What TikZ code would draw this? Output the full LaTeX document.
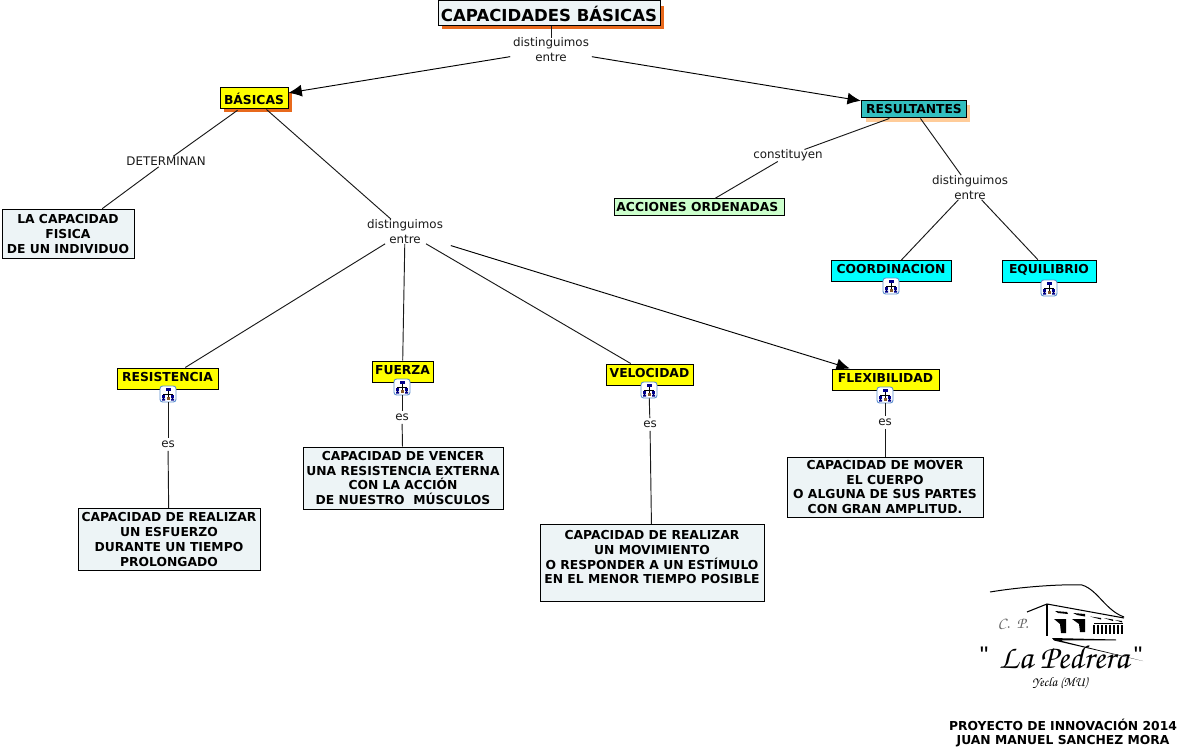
\documentclass[tikz,border=0pt]{standalone}
\usepackage{fontspec}
\setmainfont{DejaVu Sans}
\newfontfamily\quotefnt{Liberation Sans}
\newcommand{\scriptfnt}{\fontencoding{T1}\fontfamily{pzc}\fontseries{m}\fontshape{it}\selectfont}
\usetikzlibrary{arrows.meta,calc}
\definecolor{boxpale}{HTML}{EDF4F6}
\definecolor{yel}{HTML}{FFFF00}
\definecolor{cya}{HTML}{00FFFF}
\definecolor{teal2}{HTML}{33BFBF}
\definecolor{grn}{HTML}{CCFFCC}
\definecolor{org}{HTML}{E8691C}
\definecolor{pal}{HTML}{FFCC99}
\definecolor{iconb}{HTML}{5B8FD0}
\tikzset{
 x=0.75pt,y=-0.75pt,
 concept/.style={draw=black,line width=0.75pt,inner sep=0pt,align=center,font=\fontsize{9.25pt}{11.2pt}\selectfont\bfseries},
 up/.style={text height=7pt,text depth=#1},
 link/.style={inner sep=0pt,align=center,text=black!90,font=\fontsize{8.9pt}{11.2pt}\selectfont},
 conn/.style={line width=0.7pt,black!90},
 arr/.style={line width=0.7pt,black,-{Latex[length=10pt,width=9pt]}},
}
\newcommand{\mapicon}[2]{%
 \begin{scope}[shift={(#1,#2)}]
 \draw[draw=iconb,fill=white,line width=0.7pt,rounded corners=2pt] (-8,-8) rectangle (8,8);
 \draw[line width=0.35pt,black] (0,-3)--(0,4) (-4.5,2)--(-4.5,0)--(4.5,0)--(4.5,2) (-4.5,2)--(-4.5,5) (4.5,2)--(4.5,5);
 \fill[blue!55!black] (-2.5,-6) rectangle (2.5,-3);
 \fill[blue!55!black] (-6,1) rectangle (-3,3.5);
 \fill[blue!55!black] (3,1) rectangle (6,3.5);
 \fill[brown!70!black] (-1.5,3) rectangle (1.5,5.5);
 \fill[blue!55!black] (-6,4.5) rectangle (-3,6.5) (3,4.5) rectangle (6,6.5);
 \end{scope}}
\begin{document}
\begin{tikzpicture}
\useasboundingbox (0,0) rectangle (1187,752);
\fill[white] (0,0) rectangle (1187,752);
% shadows
\fill[org] (442,6) rectangle (664,29);
\fill[org] (224,92) rectangle (292,112);
\fill[pal] (866,105) rectangle (970,122);
% concept boxes
\node[concept,fill=boxpale,minimum width=166.5pt,minimum height=18.75pt,font=\fontsize{12.4pt}{14pt}\selectfont\bfseries] (title) at (549,13.5) {CAPACIDADES BÁSICAS};
\node[concept,fill=yel,minimum width=51pt,minimum height=15.75pt] (bas) at (254,98.5) {BÁSICAS};
\node[concept,fill=teal2,minimum width=79pt,minimum height=12.75pt] (res) at (914,109.5) {RESULTANTES};
\node[concept,fill=boxpale,minimum width=99pt,minimum height=36pt] (cap) at (68,234) {LA CAPACIDAD\\FISICA\\DE UN INDIVIDUO};
\node[concept,fill=grn,minimum width=128pt,minimum height=12.75pt] (acc) at (699.5,207.5) {ACCIONES ORDENADAS\ };
\node[concept,fill=cya,minimum width=90pt,minimum height=16pt,up=3pt] (coo) at (891,271) {COORDINACION};
\node[concept,fill=cya,minimum width=70.5pt,minimum height=17pt,up=4pt] (equ) at (1049,271.5) {EQUILIBRIO};
\node[concept,fill=yel,minimum width=75.75pt,minimum height=15.75pt,up=3pt] (resi) at (167.5,378.5) {RESISTENCIA};
\node[concept,fill=yel,minimum width=45.75pt,minimum height=15.75pt,up=2.5pt] (fue) at (402.5,371.5) {FUERZA};
\node[concept,fill=yel,minimum width=65.25pt,minimum height=15.75pt,up=3pt] (vel) at (649.5,374.5) {VELOCIDAD};
\node[concept,fill=yel,minimum width=80.25pt,minimum height=15.75pt,up=2pt] (fle) at (885.5,379.5) {FLEXIBILIDAD};
\node[concept,fill=boxpale,minimum width=136.5pt,minimum height=46.5pt] (d1) at (169,539.7) {CAPACIDAD DE REALIZAR\\UN ESFUERZO\\DURANTE UN TIEMPO\\PROLONGADO};
\node[concept,fill=boxpale,minimum width=150pt,minimum height=46.5pt] (d2) at (403,478) {CAPACIDAD DE VENCER\\UNA RESISTENCIA EXTERNA\\CON LA ACCIÓN\\DE NUESTRO\ \ MÚSCULOS};
\node[concept,fill=boxpale,minimum width=168pt,minimum height=57.75pt,anchor=north] (d3) at (652,524) {CAPACIDAD DE REALIZAR\\UN MOVIMIENTO\\O RESPONDER A UN ESTÍMULO\\EN EL MENOR TIEMPO POSIBLE\rule[-9pt]{0pt}{9pt}};
\node[concept,fill=boxpale,minimum width=147pt,minimum height=45pt] (d4) at (885,487) {CAPACIDAD DE MOVER\\EL CUERPO\\O ALGUNA DE SUS PARTES\\CON GRAN AMPLITUD.};
% link labels
\node[link] (l0) at (551,50) {distinguimos\\entre};
\node[link] (l1) at (166,161.5) {DETERMINAN};
\node[link] (l2) at (405,231.5) {distinguimos\\entre};
\node[link] (l3) at (788,155.5) {constituyen};
\node[link] (l4) at (970,187.5) {distinguimos\\entre};
\node[link] (e1) at (168,444.5) {es};
\node[link] (e2) at (402,417.5) {es};
\node[link] (e3) at (650,424.5) {es};
\node[link] (e4) at (885,422.5) {es};
% icons
\mapicon{168}{394}\coordinate (i1) at (168,394);
\mapicon{402}{387}\coordinate (i2) at (402,387);
\mapicon{649}{390}\coordinate (i3) at (649,390);
\mapicon{885}{395}\coordinate (i4) at (885,395);
\mapicon{891}{286}
\mapicon{1049}{288}
% connectors
\draw[conn] (l0 |- title.south) -- (l0);
\draw[arr,shorten <=2pt] (l0) -- (bas);
\draw[arr,shorten <=2pt] (l0) -- (res);
\draw[conn,shorten >=1pt,shorten <=1pt] (bas) -- (l1);
\draw[conn,shorten >=1pt,shorten <=1pt] (l1) -- (cap);
\draw[conn] (bas) -- (l2);
\draw[conn] (res) -- (l3);
\draw[conn] (l3) -- (acc);
\draw[conn] (res) -- (l4);
\draw[conn] (l4) -- (coo);
\draw[conn] (l4) -- (equ);
\draw[conn] (l2) -- (resi);
\draw[conn] (l2) -- (fue);
\draw[conn] (l2) -- (vel);
\draw[arr,shorten <=6pt] (l2) -- (fle);
\draw[conn,shorten <=6pt,shorten >=2pt] (i1) -- (e1);
\draw[conn,shorten <=6pt,shorten >=2pt] (i2) -- (e2);
\draw[conn,shorten <=6pt,shorten >=2pt] (i3) -- (e3);
\draw[conn,shorten <=6pt,shorten >=2pt] (i4) -- (e4);
\draw[conn,shorten <=2pt] (e1) -- (d1);
\draw[conn,shorten <=2pt] (e2) -- (d2);
\draw[conn,shorten <=2pt] (e3) -- (d3);
\draw[conn,shorten <=2pt] (e4) -- (d4);
% logo
\draw[line width=0.75pt] (990,592) .. controls (1020,587) and (1060,584) .. (1082,585) .. controls (1098,590) and (1105,610) .. (1124,617);
\draw[line width=0.8pt] (1027,612)--(1047,604)--(1124,618);
\draw[line width=0.9pt] (1047,604)--(1047,636);
\fill (1055,611) -- (1067,612) -- (1068,614) -- (1058,613) -- cycle;
\fill (1073,613) -- (1085,614) -- (1085,616.5) -- (1077,615) -- cycle;
\fill (1090,616.5) -- (1101,618) -- (1101,619.5) -- cycle;
\fill (1104,618) -- (1113,619.5) -- (1113,621) -- cycle;
\fill (1115,620) -- (1122,621) -- (1122,622.5) -- cycle;
\fill (1054,619) -- (1066,619) -- (1066,633) -- (1061,633) -- (1060,624) -- cycle;
\fill (1072,619) -- (1085,619) -- (1085,632) -- (1080,632) -- (1079,624) -- cycle;
\draw[line width=0.7pt] (1094,623)--(1123,623);
\foreach \xx in {1094,1098,...,1122}{\draw[line width=0.8pt] (\xx,625)--(\xx,634);}
\fill (1052,638) -- (1116,639.5) -- (1116,640.3) -- (1060,640.5) -- (1143,661) -- (1054,640.5) -- cycle;
\node[inner sep=0pt,font=\scriptfnt\fontsize{12pt}{12pt}\selectfont,text=black!60] (cp) at (1013,624) {C.\ \ P.};
\node[inner sep=0pt,font=\quotefnt\fontsize{18pt}{18pt}\selectfont] (q1) at (984,655) {\char34};
\node[inner sep=0pt,font=\quotefnt\fontsize{18pt}{18pt}\selectfont] (q2) at (1138,655) {\char34};
\node[inner sep=0pt,font=\scriptfnt\fontsize{25pt}{25pt}\selectfont] (lp) at (1064,657) {La Pedrera};
\node[inner sep=0pt,font=\scriptfnt\fontsize{10pt}{10pt}\selectfont] (yc) at (1060,683) {Yecla (MU)};
% footer
\node[concept,draw=none,font=\fontsize{9.25pt}{11.2pt}\selectfont\bfseries] (foot) at (1063,733) {PROYECTO DE INNOVACIÓN 2014\\JUAN MANUEL SANCHEZ MORA};
\end{tikzpicture}
\end{document}
